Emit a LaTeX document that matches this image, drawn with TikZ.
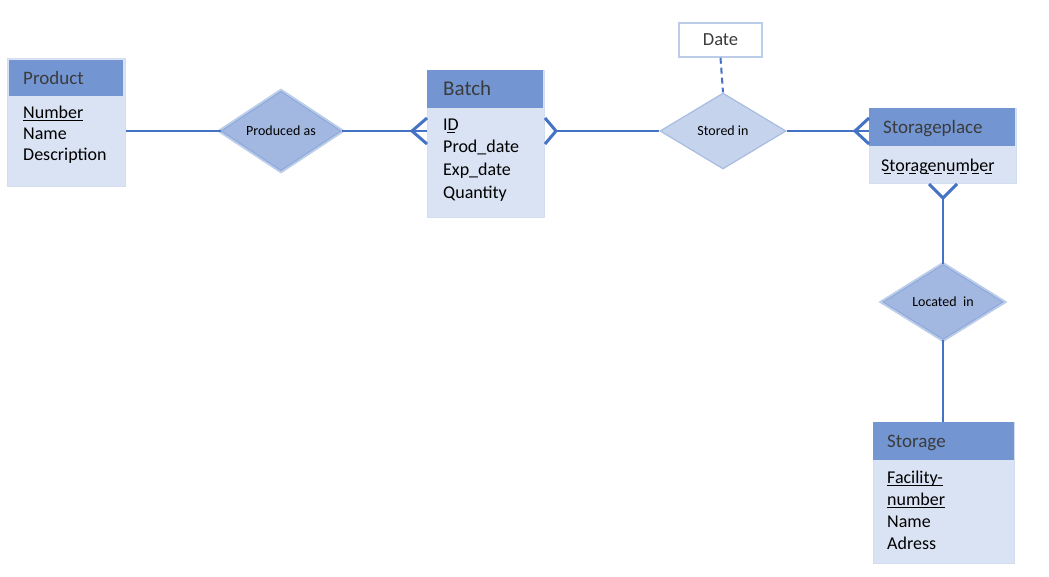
\documentclass[tikz,border=0pt]{standalone}
\usepackage{fontspec}
\setmainfont{Carlito}
\usetikzlibrary{positioning, shapes.geometric}

\definecolor{erline}{HTML}{4472C4}
\definecolor{erhead}{HTML}{7396D3}
\definecolor{erbody}{HTML}{DAE3F3}
\definecolor{erframe}{HTML}{D3DDF0}
\definecolor{relfill}{HTML}{A2B8E1}
\definecolor{reledge}{HTML}{8EA9DB}
\definecolor{relglow}{HTML}{BCCDE9}
\definecolor{weakfill}{HTML}{C5D3EC}
\definecolor{weakedge}{HTML}{A9BDE0}
\definecolor{headtext}{HTML}{3B3B3B}

% key attributes: solid and dashed underline
\newcommand{\keyline}[1]{\setbox0\hbox{#1}\rlap{\rule[-2.8pt]{\wd0}{1.1pt}}\box0}
\newcommand{\partkeyline}[1]{\setbox0\hbox{#1}%
  \rlap{\raisebox{-3pt}{\hbox to \wd0{\cleaders\hbox{\kern.15em\rule{.4em}{1.1pt}\kern.15em}\hfill}}}\box0}

\tikzset{
  ent/.style={draw=erframe, line width=1pt, fill=erbody, anchor=north west, inner sep=0pt},
  enthead/.style={fill=erhead, text=headtext, inner xsep=14pt, inner ysep=0pt,
    minimum height=38pt, text height=13pt, text depth=0pt, align=left,
    font=\fontsize{19}{22}\selectfont},
  attrs/.style={inner sep=0pt, align=left, font=\fontsize{18}{22}\selectfont},
  rel/.style={diamond, fill=relfill, draw=reledge, line width=1pt,
    preaction={draw=relglow, line width=5pt}, inner sep=0pt,
    font=\fontsize{14}{16}\selectfont},
  weakrel/.style={diamond, fill=weakfill, draw=weakedge, line width=1.2pt,
    inner sep=0pt, font=\fontsize{14}{16}\selectfont},
  datebox/.style={draw=relglow, line width=1.5pt, fill=white, text=headtext,
    minimum width=83pt, minimum height=34pt, font=\fontsize{18.5}{22}\selectfont},
  conn/.style={draw=erline, line width=2pt},
  optline/.style={conn, dash pattern=on 6pt off 4pt},
  crow/.style={draw=erline, line width=3pt},
}

\begin{document}
\begin{tikzpicture}[x=1pt, y=-1pt]
  \path[use as bounding box, fill=white] (0,0) rectangle (1049,577);

  % entities (attribute nodes sit on the baseline of their last line)
  \node[ent, minimum width=118pt, minimum height=128pt] (product) at (7,58) {};
  \node[enthead, text width=86pt, minimum height=36pt, below right=2pt and 2pt of product.north west] (product-h) {Product};
  \node[attrs, font=\fontsize{18}{21}\selectfont, below right=64pt and 14pt of product-h.south west, anchor=base west] (product-a)
    {\keyline{Number}\\Name\\Description};

  \node[ent, minimum width=117pt, minimum height=147pt] (batch) at (427,70) {};
  \node[enthead, text width=84pt, inner xsep=16pt, font=\fontsize{21}{24}\selectfont, below right=0pt and 0pt of batch.north west] (batch-h) {Batch};
  \node[attrs, font=\fontsize{18}{22.6}\selectfont, below right=89.8pt and 16pt of batch-h.south west, anchor=base west] (batch-a)
    {\partkeyline{ID}\\Prod\_date\\Exp\_date\\Quantity};

  \node[ent, minimum width=147pt, minimum height=75pt] (place) at (869,108) {};
  \node[enthead, text width=118pt, below right=0pt and 0pt of place.north west] (place-h) {Storageplace};
  \node[attrs, below right=25pt and 12pt of place-h.south west, anchor=base west] (place-a)
    {\partkeyline{Storagenumber}};

  \node[ent, minimum width=141pt, minimum height=141pt] (storage) at (873,422) {};
  \node[enthead, text width=113pt, below right=0pt and 0pt of storage.north west] (storage-h) {Storage};
  \node[attrs, below right=89pt and 14pt of storage-h.south west, anchor=base west] (storage-a)
    {\keyline{Facility-}\\\keyline{number}\\Name\\Adress};

  % relationships
  \node[rel, minimum width=120pt, minimum height=77pt] (produced) at (281,131) {Produced as};
  \node[weakrel, minimum width=126pt, minimum height=76pt] (stored) at (723,131) {Stored in};
  \node[rel, minimum width=120pt, minimum height=75pt] (located) at (943,302) {Located\ \ in};
  \node[datebox] (date) at (720.5,40) {Date};

  % connectors
  \draw[conn] (produced.west -| product.east) -- (produced.west);
  \draw[conn] (produced.east) -- (produced.east -| batch.west);
  \draw[conn] (stored.west -| batch.east) ++(11,0) -- (stored.west);
  \draw[conn] (stored.east) -- (stored.east -| place.west);
  \draw[conn] (place.south) ++(0,14) -- (located.north);
  \draw[conn] (located.south) -- (located.south |- storage.north);
  \draw[optline] (date.south) -- (stored.north);

  % crow's feet
  \draw[crow] (produced.east -| batch.west) ++(0,-13) -- ++(-15,13) -- ++(15,13);
  \draw[crow] (stored.west -| batch.east) ++(0,-13) -- ++(11,13) -- ++(-11,13);
  \draw[crow] (stored.east -| place.west) ++(0,-13) -- ++(-14,13) -- ++(14,13);
  \draw[crow] (place.south) ++(-14,0) -- ++(14,14) -- ++(14,-14);
\end{tikzpicture}
\end{document}
